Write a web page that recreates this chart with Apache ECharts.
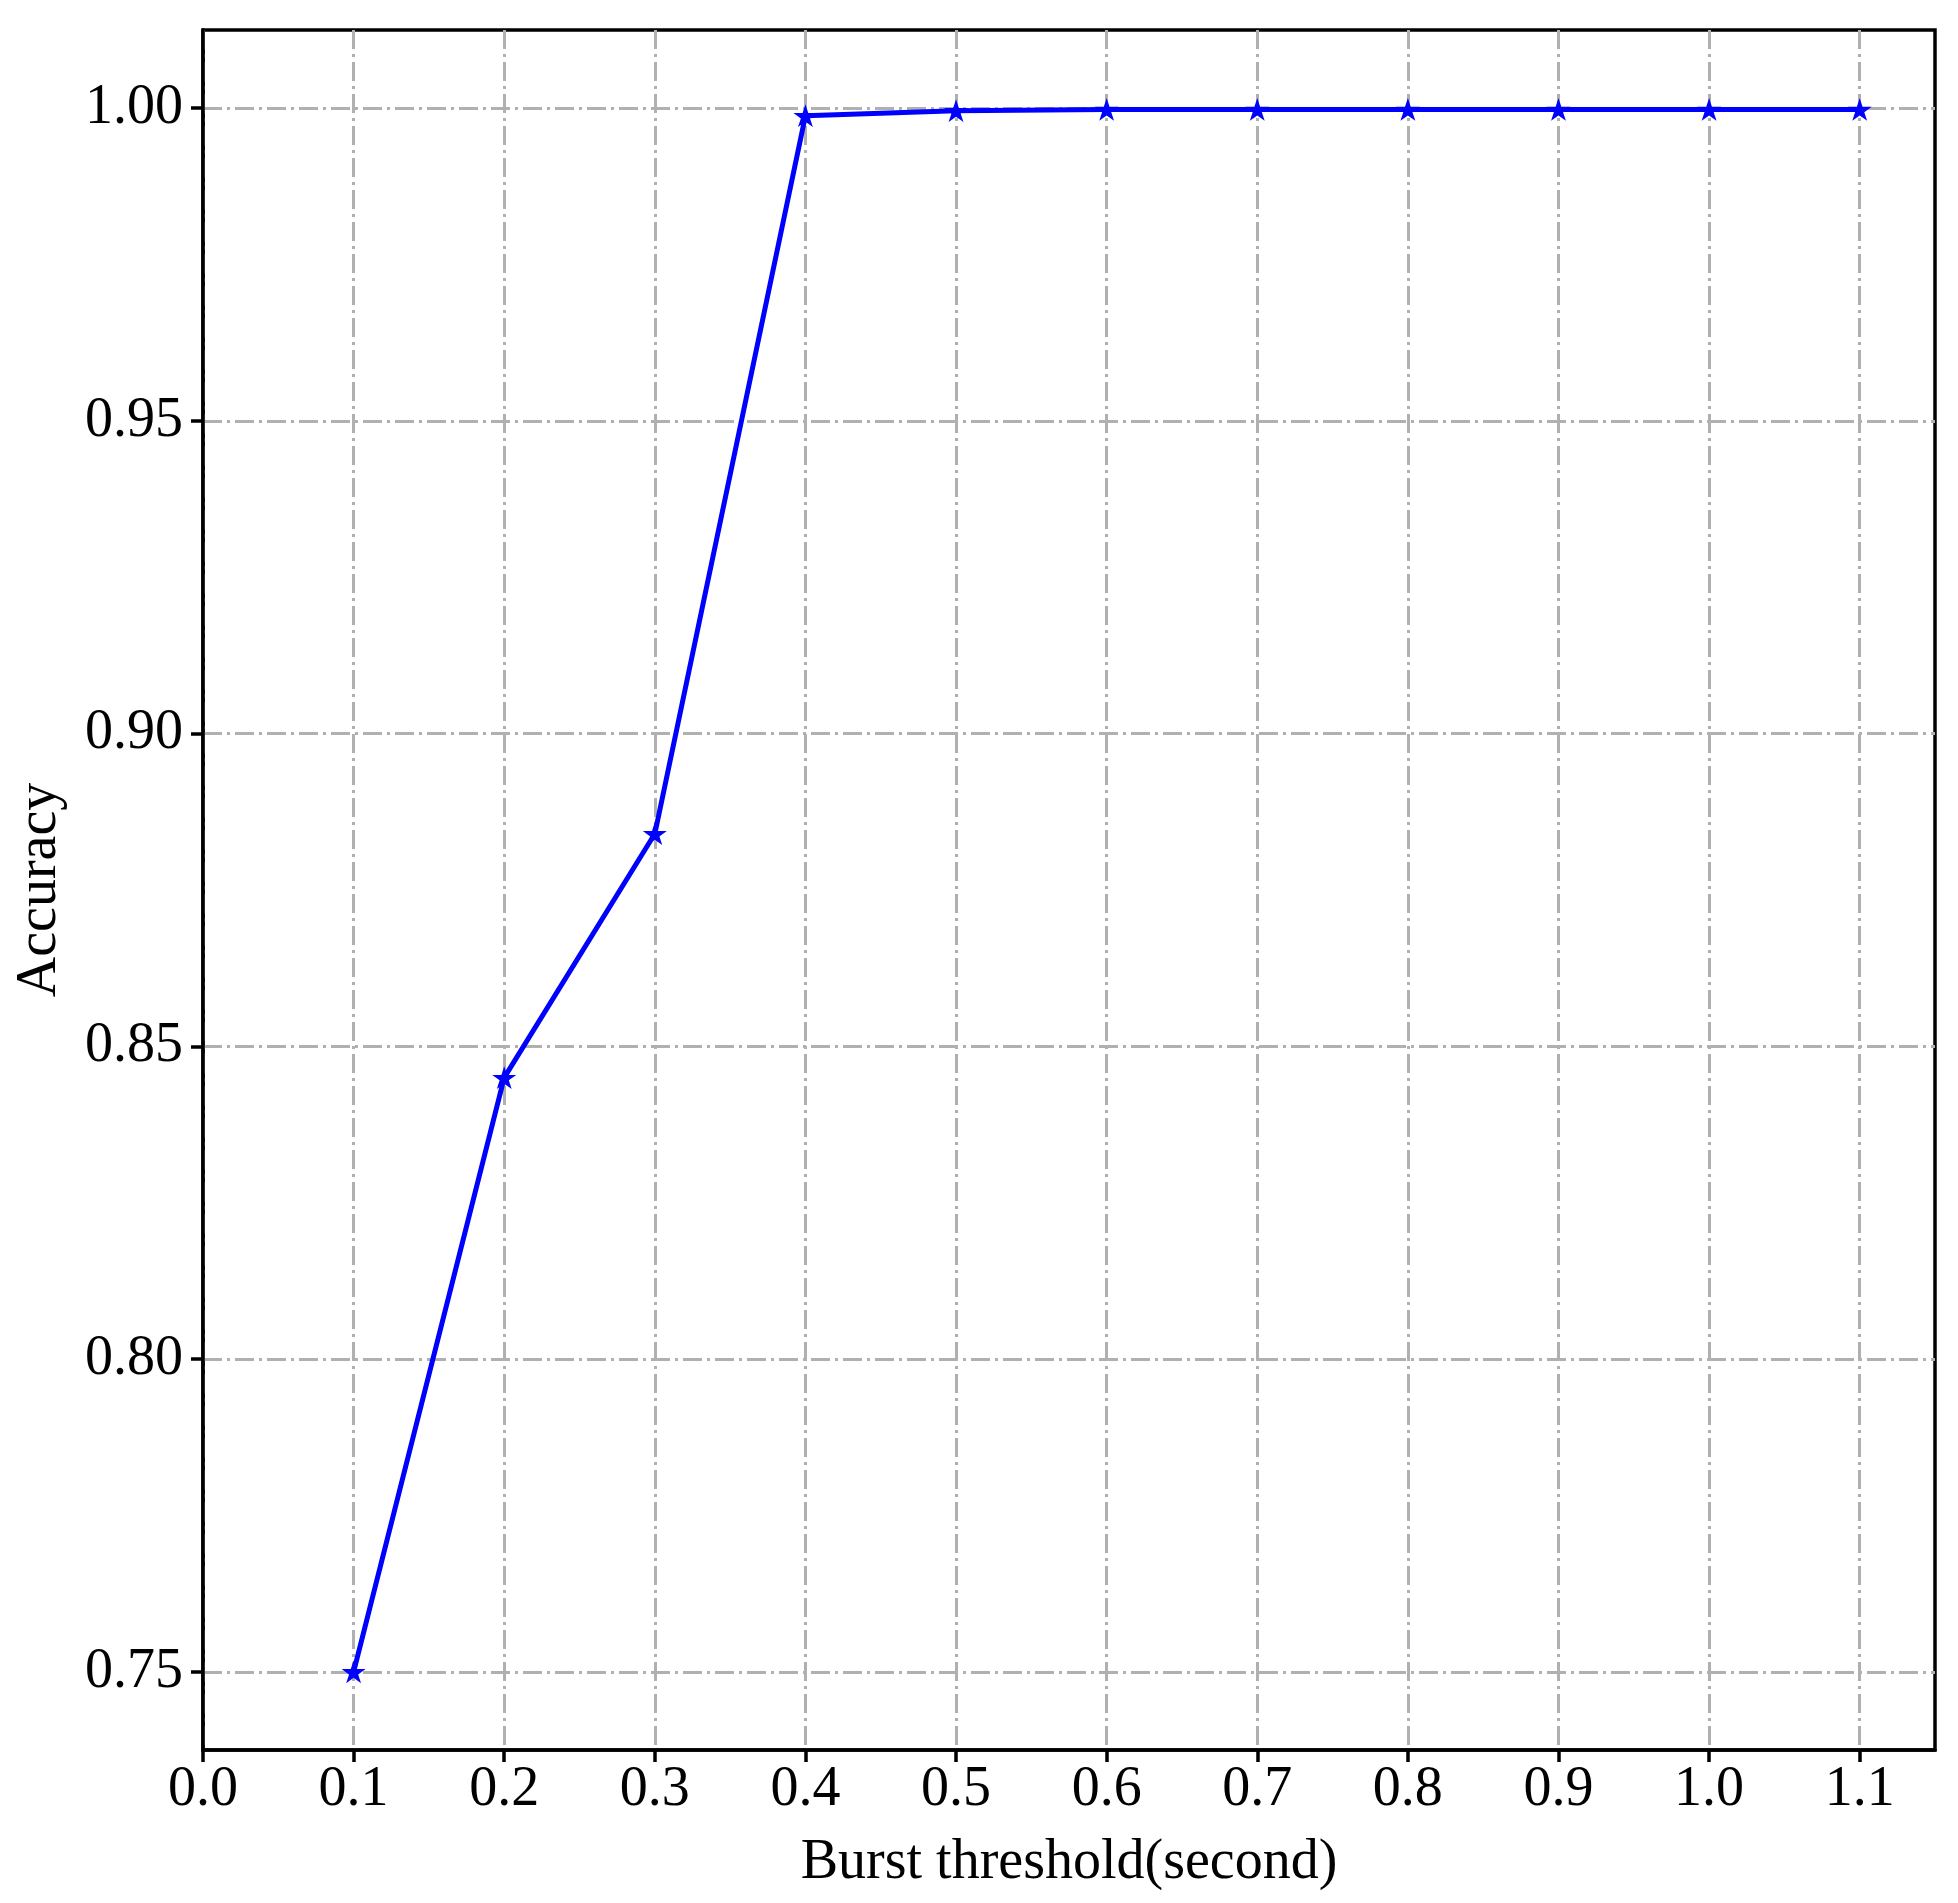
<!DOCTYPE html>
<html>
<head>
<meta charset="utf-8">
<script src="https://cdn.jsdelivr.net/npm/echarts@6/dist/echarts.min.js"></script>
<style>
  html, body { margin: 0; padding: 0; background: #fff; }
  #chart { width: 1958px; height: 1903px; }
</style>
</head>
<body>
<div id="chart"></div>
<script>
// burst threshold (s) vs accuracy
const thresholds = [0.1, 0.2, 0.3, 0.4, 0.5, 0.6, 0.7, 0.8, 0.9, 1.0, 1.1];
const accuracy = [0.750, 0.845, 0.884, 0.9988, 0.9996, 0.9998, 0.9998, 0.9998, 0.9998, 0.9998, 0.9998];
const xTicks = [0.0, 0.1, 0.2, 0.3, 0.4, 0.5, 0.6, 0.7, 0.8, 0.9, 1.0, 1.1];
const yTicks = [0.75, 0.80, 0.85, 0.90, 0.95, 1.00];

const font = 'Liberation Serif';
const star = 'path://M50 0 L61.23 34.55 L97.55 34.55 L68.17 55.9 L79.39 90.45 L50 69.1 L20.61 90.45 L31.83 55.9 L2.45 34.55 L38.77 34.55 Z';
const gridLine = {
    show: true,
    lineStyle: { color: '#b0b0b0', width: 3, type: [19, 5, 3, 5] }
};

const myChart = echarts.init(document.getElementById('chart'));
const option = {
    animation: false,
    backgroundColor: '#fff',
    grid: {
        left: 203, top: 30, right: 23, bottom: 153,
        show: true, borderColor: '#000', borderWidth: 3.5
    },
    xAxis: {
        type: 'value',
        min: 0, max: 1.15,
        name: 'Burst threshold(second)',
        nameLocation: 'middle',
        nameGap: 85,
        nameTextStyle: { fontFamily: font, fontSize: 56, color: '#000' },
        axisLine: { show: true, onZero: false, lineStyle: { color: '#000', width: 3.5 } },
        axisTick: { show: true, length: 12, lineStyle: { color: '#000', width: 3.5 }, customValues: xTicks },
        axisLabel: {
            fontFamily: font, fontSize: 56, color: '#000', margin: 12,
            customValues: xTicks,
            formatter: v => v.toFixed(1)
        },
        splitLine: gridLine
    },
    yAxis: {
        type: 'value',
        min: 0.7375, max: 1.0125,
        name: 'Accuracy',
        nameLocation: 'middle',
        nameGap: 135,
        nameTextStyle: { fontFamily: font, fontSize: 56, color: '#000' },
        axisLine: { show: true, onZero: false, lineStyle: { color: '#000', width: 3.5 } },
        axisTick: { show: true, length: 12, lineStyle: { color: '#000', width: 3.5 }, customValues: yTicks },
        axisLabel: {
            fontFamily: font, fontSize: 56, color: '#000', margin: 20,
            customValues: yTicks,
            formatter: v => v.toFixed(2)
        },
        splitLine: gridLine
    },
    series: [{
        type: 'line',
        data: thresholds.map((t, i) => [t, accuracy[i]]),
        lineStyle: { color: '#0000ff', width: 5 },
        itemStyle: { color: '#0000ff' },
        symbol: star,
        symbolSize: 24,
        symbolKeepAspect: true,
        showSymbol: true
    }]
};
myChart.setOption(option);
</script>
</body>
</html>
